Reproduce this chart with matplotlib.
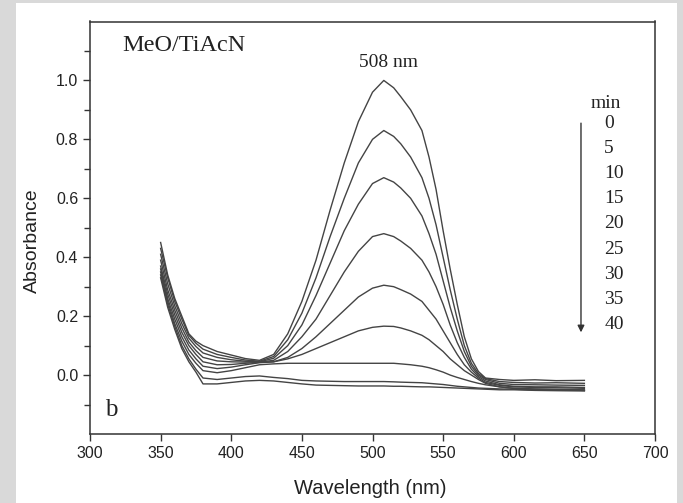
import matplotlib
matplotlib.use("Agg")
import matplotlib.pyplot as plt
from matplotlib.patches import Rectangle
from matplotlib.ticker import FixedLocator

# --- data ---
wavelength = [350, 355, 360, 365, 370, 375, 380, 390, 400, 410, 420, 430, 440,
              450, 460, 470, 480, 490, 500, 508, 515, 520, 527, 535, 540, 545,
              550, 555, 560, 565, 570, 575, 580, 590, 600, 615, 630, 650]

abs_0 = [0.45, 0.34, 0.26, 0.20, 0.14, 0.115, 0.10, 0.08, 0.068, 0.056, 0.05, 0.07, 0.14,
         0.25, 0.39, 0.56, 0.72, 0.86, 0.96, 1.00, 0.975, 0.945, 0.90, 0.83, 0.74, 0.63,
         0.49, 0.36, 0.24, 0.13, 0.055, 0.012, -0.01, -0.015, -0.018, -0.016, -0.019, -0.018]
abs_5 = [0.43, 0.33, 0.25, 0.19, 0.135, 0.108, 0.088, 0.07, 0.06, 0.051, 0.047, 0.063, 0.12,
         0.21, 0.33, 0.47, 0.60, 0.72, 0.80, 0.83, 0.81, 0.785, 0.74, 0.67, 0.60, 0.51,
         0.40, 0.29, 0.19, 0.10, 0.04, 0.005, -0.012, -0.022, -0.025, -0.027, -0.026, -0.028]
abs_10 = [0.41, 0.31, 0.235, 0.175, 0.125, 0.097, 0.075, 0.06, 0.052, 0.047, 0.045, 0.057, 0.10,
          0.17, 0.27, 0.38, 0.49, 0.58, 0.65, 0.67, 0.655, 0.635, 0.60, 0.54, 0.48, 0.41,
          0.32, 0.23, 0.15, 0.08, 0.03, 0.0, -0.015, -0.028, -0.032, -0.033, -0.034, -0.035]
abs_15 = [0.39, 0.29, 0.22, 0.16, 0.112, 0.083, 0.06, 0.048, 0.045, 0.044, 0.044, 0.05, 0.08,
          0.13, 0.19, 0.27, 0.35, 0.42, 0.47, 0.48, 0.47, 0.455, 0.43, 0.39, 0.35, 0.30,
          0.24, 0.17, 0.11, 0.06, 0.02, -0.005, -0.02, -0.033, -0.038, -0.04, -0.04, -0.042]
abs_20 = [0.37, 0.275, 0.205, 0.145, 0.10, 0.07, 0.045, 0.035, 0.036, 0.04, 0.043, 0.045, 0.06,
          0.09, 0.13, 0.175, 0.22, 0.265, 0.295, 0.305, 0.30, 0.29, 0.275, 0.25, 0.22, 0.19,
          0.15, 0.11, 0.07, 0.035, 0.01, -0.01, -0.025, -0.035, -0.04, -0.042, -0.043, -0.045]
abs_25 = [0.36, 0.26, 0.19, 0.13, 0.085, 0.055, 0.03, 0.022, 0.027, 0.035, 0.042, 0.045, 0.055,
          0.07, 0.09, 0.11, 0.13, 0.15, 0.162, 0.166, 0.165, 0.16, 0.15, 0.135, 0.12, 0.10,
          0.08, 0.055, 0.035, 0.015, 0.0, -0.015, -0.028, -0.04, -0.045, -0.047, -0.048, -0.05]
abs_30 = [0.35, 0.25, 0.175, 0.115, 0.07, 0.04, 0.015, 0.008, 0.015, 0.025, 0.035, 0.038, 0.04,
          0.04, 0.04, 0.04, 0.04, 0.04, 0.04, 0.04, 0.04, 0.038, 0.035, 0.03, 0.025, 0.018,
          0.01, 0.0, -0.008, -0.015, -0.022, -0.028, -0.033, -0.04, -0.045, -0.048, -0.05, -0.052]
abs_35 = [0.34, 0.24, 0.165, 0.10, 0.055, 0.02, -0.01, -0.015, -0.01, -0.005, -0.003, -0.008, -0.012,
          -0.018, -0.02, -0.021, -0.022, -0.022, -0.022, -0.022, -0.023, -0.024, -0.025, -0.026, -0.028, -0.03,
          -0.032, -0.035, -0.038, -0.04, -0.042, -0.044, -0.045, -0.047, -0.048, -0.05, -0.05, -0.052]
abs_40 = [0.33, 0.23, 0.155, 0.09, 0.045, 0.01, -0.03, -0.03, -0.025, -0.02, -0.018, -0.02, -0.025,
          -0.03, -0.034, -0.035, -0.036, -0.037, -0.037, -0.037, -0.038, -0.038, -0.039, -0.04, -0.04, -0.041,
          -0.042, -0.043, -0.044, -0.045, -0.046, -0.047, -0.048, -0.05, -0.05, -0.052, -0.053, -0.054]

spectra = [abs_0, abs_5, abs_10, abs_15, abs_20, abs_25, abs_30, abs_35, abs_40]
time_labels = ["0", "5", "10", "15", "20", "25", "30", "35", "40"]

# --- figure ---
W, H = 683, 503
fig = plt.figure(figsize=(W / 100, H / 100), dpi=100, facecolor="#d9d9d9")
# white panel behind the plot (screenshot frame)
fig.patches.append(Rectangle((16 / W, 0), (677 - 16) / W, (503 - 3) / H,
                             transform=fig.transFigure, facecolor="white",
                             edgecolor="none", zorder=-5))

ax = fig.add_axes([90 / W, (H - 434) / H, (655 - 90) / W, (434 - 21.5) / H])
ax.set_zorder(2)
ax.set_facecolor("white")

for y in spectra:
    ax.plot(wavelength, y, color="#444444", lw=1.0)

ax.set_xlim(300, 700)
ax.set_ylim(-0.2, 1.2)
ax.xaxis.set_major_locator(FixedLocator(range(300, 701, 50)))
ax.yaxis.set_major_locator(FixedLocator([0.0, 0.2, 0.4, 0.6, 0.8, 1.0]))
ax.yaxis.set_minor_locator(FixedLocator([-0.1, 0.1, 0.3, 0.5, 0.7, 0.9, 1.1]))
ax.tick_params(axis="both", which="major", direction="out", length=5, width=1,
               labelsize=11.5, colors="#333333", labelcolor="#222222")
ax.tick_params(axis="y", which="minor", direction="out", length=4, width=1, colors="#333333")
ax.set_yticklabels(["0.0", "0.2", "0.4", "0.6", "0.8", "1.0"])
for s in ax.spines.values():
    s.set_color("#333333")
    s.set_linewidth(1.1)

sans = "Liberation Sans"
serif = "Liberation Serif"
for lab in ax.get_xticklabels() + ax.get_yticklabels():
    lab.set_fontfamily(sans)

ax.set_xlabel("Wavelength (nm)", fontsize=14.5, family=sans, color="#222222")
ax.set_ylabel("Absorbance", fontsize=14, family=sans, color="#222222")
ax.xaxis.set_label_coords(0.496, -0.108)
ax.yaxis.set_label_coords(-0.087, 0.468)

# annotations
ax.text(323, 1.12, "MeO/TiAcN", family=serif, fontsize=17.5, va="center", ha="left", color="#222222")
ax.text(511, 1.062, "508 nm", family=serif, fontsize=14, va="center", ha="center", color="#222222")
ax.text(311, -0.12, "b", family=serif, fontsize=18, va="center", ha="left", color="#222222")

ax.text(665, 0.923, "min", family=serif, fontsize=14, va="center", ha="center", color="#222222")
for i, lab in enumerate(time_labels):
    ax.text(664, 0.855 - i * 0.0855, lab, family=serif, fontsize=14,
            va="center", ha="left", color="#222222")
ax.annotate("", xy=(647.6, 0.145), xytext=(647.6, 0.855),
            arrowprops=dict(arrowstyle="-|>", color="#333333", lw=1.0,
                            mutation_scale=10, shrinkA=0, shrinkB=0))

fig.savefig("out.png", dpi=100, facecolor=fig.get_facecolor())
